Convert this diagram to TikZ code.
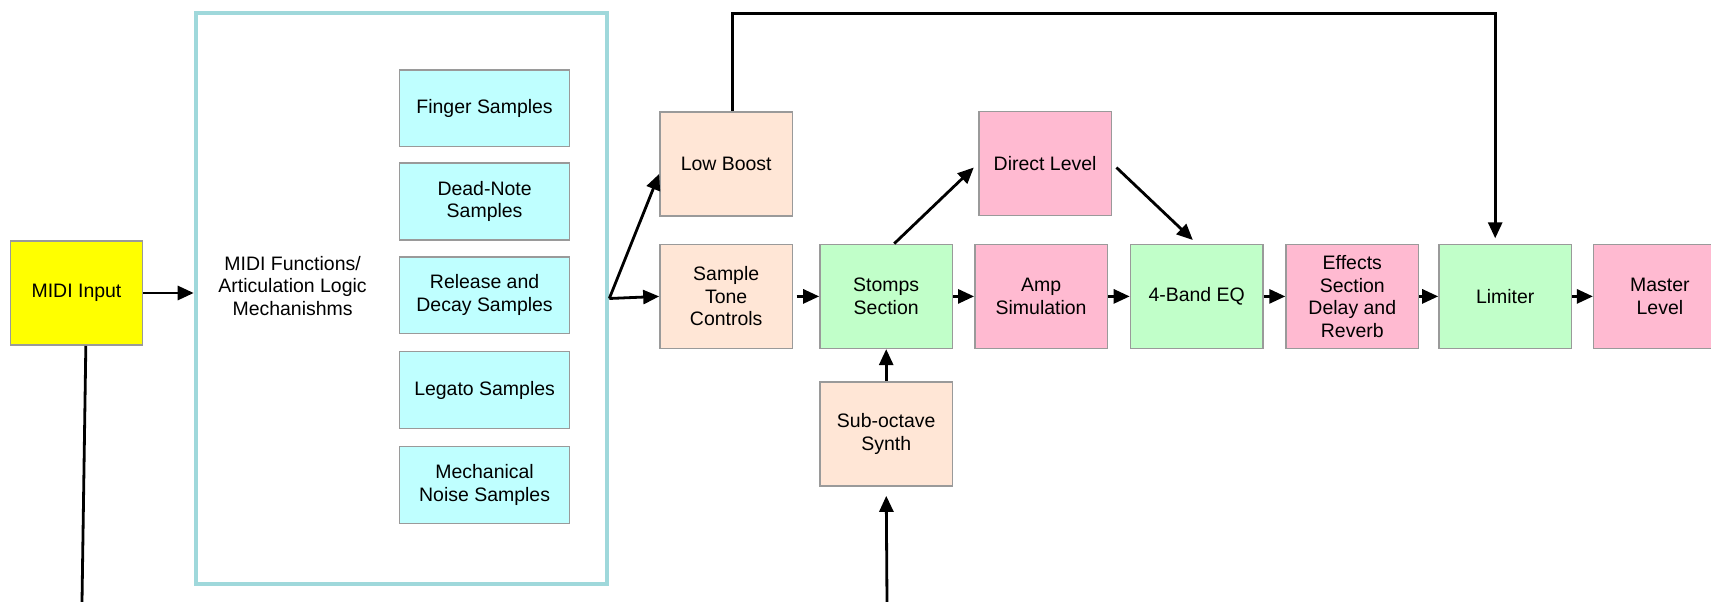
\documentclass[tikz,border=0pt]{standalone}
\usepackage{fontspec}
\setmainfont{Liberation Sans}
\usetikzlibrary{arrows.meta}

\definecolor{midiyellow}{HTML}{FFFF00}
\definecolor{samplecyan}{HTML}{BFFFFF}
\definecolor{tonepeach}{HTML}{FFE6D6}
\definecolor{stompgreen}{HTML}{C1FFC9}
\definecolor{levelpink}{HTML}{FFBAD1}
\definecolor{boxgray}{HTML}{9A9A9A}
\definecolor{frameteal}{HTML}{9FD8DB}

\tikzset{
  block/.style={draw=boxgray, line width=1.1pt, align=center,
    minimum width=99.4pt, minimum height=78pt, inner sep=2pt,
    font=\fontsize{14.6}{16.9}\selectfont},
  sample/.style={block, fill=samplecyan, minimum width=127.5pt, minimum height=57.6pt},
  flow/.style={line width=2.1pt, -{Triangle[length=12pt,width=10.5pt]}}
}

\begin{document}
\begin{tikzpicture}[x=0.75pt,y=-0.75pt]
\useasboundingbox (0,0) rectangle (1711,602);

% input and sample engine
\node[block, fill=midiyellow, minimum width=98.7pt, minimum height=78.3pt] (midi) at (76.5,293) {MIDI Input};
\node[draw=frameteal, line width=3pt, minimum width=308.7pt, minimum height=427.6pt] (engine) at (401.5,298.5) {};
\node[align=center, font=\fontsize{14.6}{16.9}\selectfont] (logic) at (292.6,286) {MIDI Functions/\\Articulation Logic\\Mechanishms};

\node[sample] (finger) at (484.6,108.2) {Finger Samples};
\node[sample] (dead) at (484.6,201.5) {Dead-Note\\Samples};
\node[sample] (release) at (484.6,295.2) {Release and\\Decay Samples};
\node[sample] (legato) at (484.6,390) {Legato Samples};
\node[sample] (noise) at (484.6,485) {Mechanical\\Noise Samples};

% signal chain
\node[block, fill=tonepeach] (boost) at (726.2,163.9) {Low Boost};
\node[block, fill=tonepeach] (tone) at (726.2,296.4) {Sample\\Tone\\Controls};
\node[block, fill=stompgreen] (stomps) at (886.2,296.4) {Stomps\\Section};
\node[block, fill=tonepeach] (suboct) at (886.2,433.8) {Sub-octave\\Synth};
\node[block, fill=levelpink] (amp) at (1041.1,296.4) {Amp\\Simulation};
\node[block, fill=levelpink] (direct) at (1045.1,163.4) {Direct Level};
\node[block, fill=stompgreen] (eq) at (1196.7,296.4) {4-Band EQ};
\node[block, fill=levelpink] (fx) at (1352.3,296.4) {Effects\\Section\\Delay and\\Reverb};
\node[block, fill=stompgreen] (limiter) at (1505.2,296.4) {Limiter};
\node[block, fill=levelpink] (master) at (1659.9,296.4) {Master\\Level};

% free ends and rail
\coordinate (midiout) at (82,602);
\coordinate (subin) at (887,602);
\coordinate (toprail) at (1100,13.4);

% connectors
\draw[flow] (midi.east) -- (midi.east -| engine.west);
\draw[line width=2.1pt] ([xshift=7pt]midi.south) -- (midiout);
\draw[flow] (engine.east) -- (tone.west);
\draw[flow] (engine.east) -- ([yshift=-7.5pt]boost.west);
\draw[flow, shorten <=2.5pt] (tone.east) -- (stomps.west);
\draw[flow] (stomps.east) -- (amp.west);
\draw[flow] (suboct.north) -- (stomps.south);
\draw[flow, shorten >=7pt] (subin) -- (suboct.south);
\draw[flow, shorten >=4.5pt] ([xshift=6pt]stomps.north) -- (direct.west);
\draw[flow, shorten <=4.5pt, shorten >=4pt] (direct.east) -- (eq.north);
\draw[flow] (amp.east) -- (eq.west);
\draw[flow] (eq.east) -- (fx.west);
\draw[flow] (fx.east) -- (limiter.west);
\draw[flow] (limiter.east) -- (master.west);
\draw[flow, shorten >=4pt] ([xshift=4.5pt]boost.north) |- (toprail) -| ([xshift=-7.5pt]limiter.north);

\end{tikzpicture}
\end{document}
